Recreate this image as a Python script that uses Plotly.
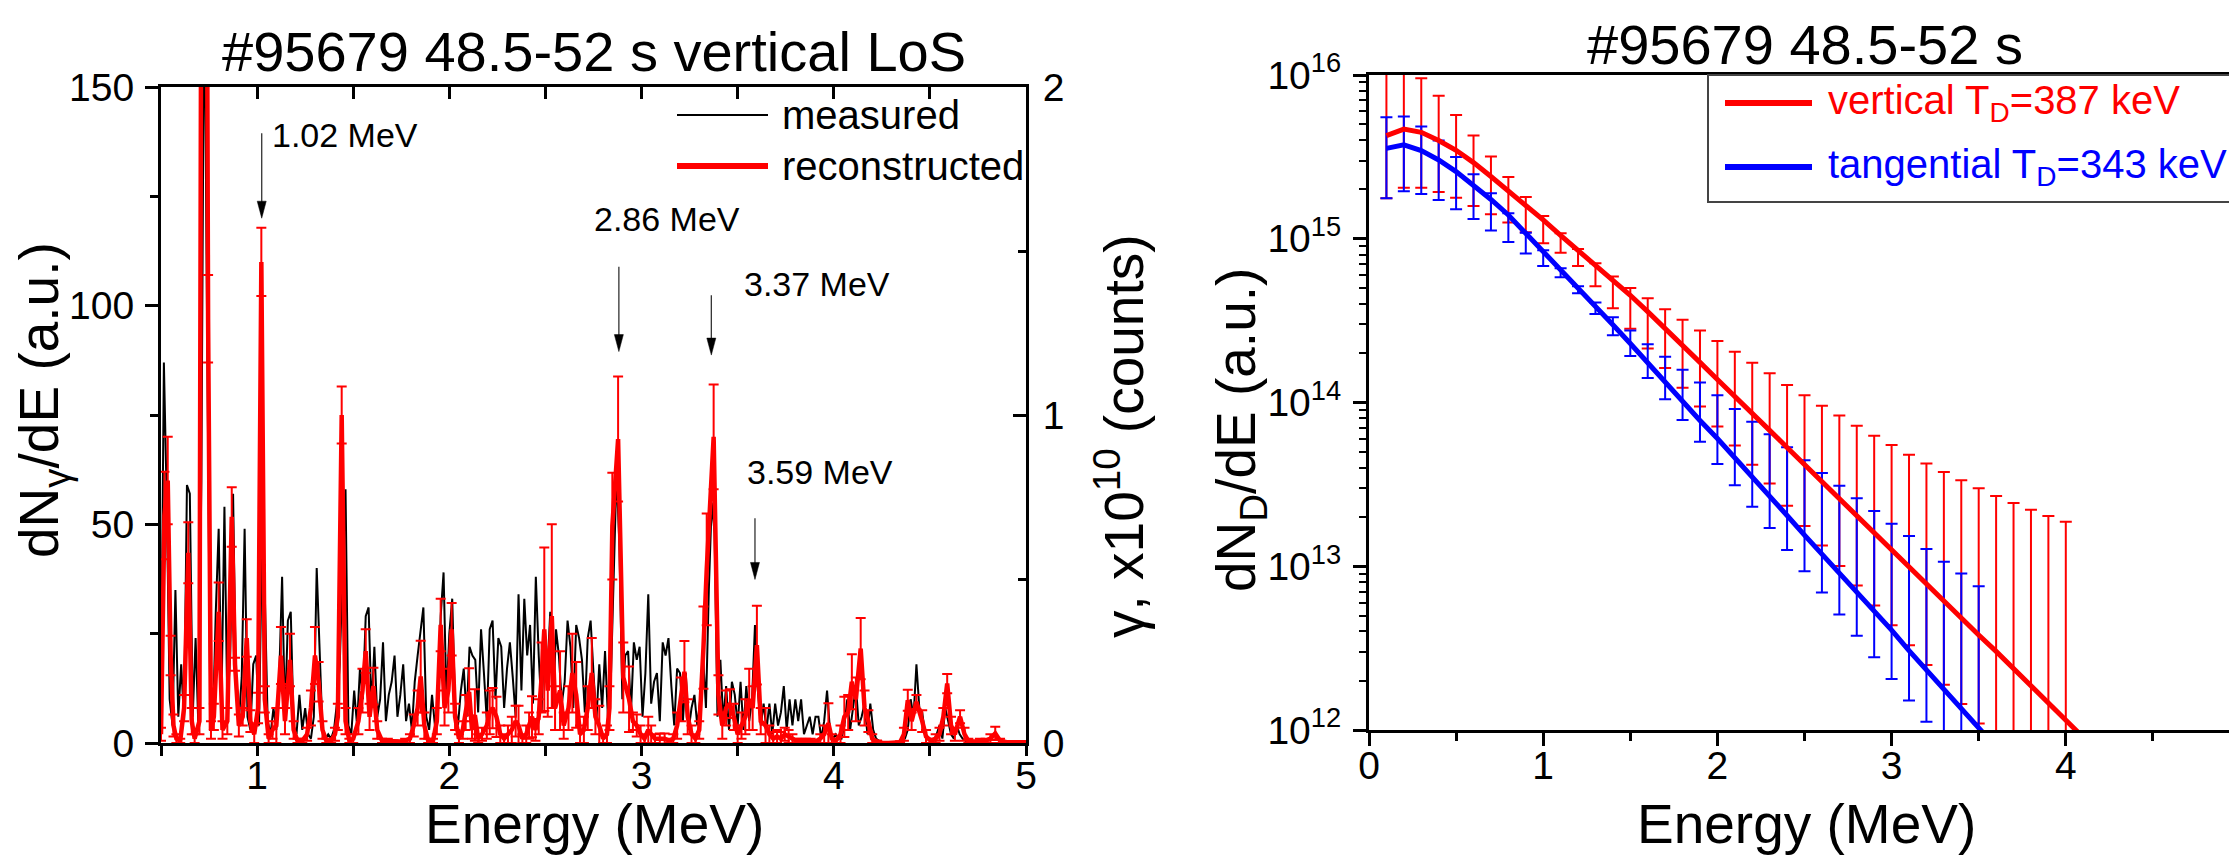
import plotly.graph_objects as go

W, H = 2237, 855
OFF = 8   # the page body puts the figure 8 px in from the top-left corner
FONT = "Liberation Sans, Arial, Helvetica, sans-serif"


def px(x):
    return (x - OFF) / W


def py(y):
    return 1 - (y - OFF) / H


# ---------------- left panel: gamma spectrum ----------------
meas_E0 = 0.5          # energy of first channel (MeV)
meas_dE = 0.015        # channel width (MeV)
meas_counts = [
    8, 87, 55, 10, 4, 35, 6, 18, 5, 59,
    57, 6, 24, 3, 60, 180, 95, 15, 4, 30,
    49, 10, 54, 8, 20, 57, 12, 5, 15, 49,
    6, 3, 18, 20, 4, 45, 34, 5, 2, 8,
    3, 15, 38, 6, 28, 30, 4, 2, 11, 3,
    8, 2, 1, 6, 40, 21, 3, 1, 2, 1,
    3, 9, 18, 40, 58, 4, 2, 12, 4, 17,
    10, 29, 31, 8, 22, 6, 10, 23, 5, 11,
    14, 20, 6, 11, 18, 5, 9, 3, 14, 20,
    25, 31, 6, 3, 11, 4, 8, 29, 39, 10,
    25, 33, 8, 4, 12, 17, 6, 22, 20, 19,
    7, 26, 16, 5, 26, 28, 10, 24, 22, 8,
    17, 23, 15, 6, 34, 12, 33, 20, 27, 9,
    38, 20, 7, 25, 16, 30, 8, 26, 20, 9,
    14, 28, 22, 8, 27, 24, 19, 7, 24, 28,
    16, 5, 18, 8, 21, 6, 14, 40, 62, 45,
    10, 20, 21, 7, 23, 19, 22, 6, 16, 34,
    9, 14, 16, 5, 23, 20, 24, 13, 4, 17,
    16, 5, 16, 3, 8, 11, 4, 10, 20, 8,
    35, 55, 48, 6, 19, 5, 13, 3, 14, 11,
    4, 14, 3, 13, 5, 10, 27, 12, 4, 9,
    3, 9, 2, 9, 4, 7, 13, 3, 10, 4,
    10, 5, 10, 2, 4, 6, 2, 6, 6, 1,
    5, 12, 3, 1, 2, 1, 1, 4, 10, 3,
    8, 13, 4, 6, 9, 2, 9, 3, 1, 0.5,
    0, 0, 0, 0, 0, 0, 0, 0.5, 1, 3,
    10, 6, 18, 8, 7, 2, 1, 1, 0.5, 2,
    4, 1, 8, 5, 2, 1, 4, 2, 1, 0.5,
    0, 0, 0, 0, 0, 0, 0, 0, 0, 0,
    0, 0, 0, 0, 0, 0, 0, 0, 0, 0, 0,
]
meas_E = [round(meas_E0 + meas_dE * i, 4) for i in range(len(meas_counts))]

rec_E = [
    0.500, 0.518, 0.535, 0.550, 0.565, 0.580, 0.600, 0.620, 0.642, 0.660,
    0.675, 0.700, 0.722, 0.745, 0.760, 0.775, 0.800, 0.820, 0.845, 0.868,
    0.885, 0.905, 0.925, 0.946, 0.965, 0.985, 1.005, 1.022, 1.040, 1.060,
    1.080, 1.100, 1.124, 1.145, 1.171, 1.190, 1.210, 1.235, 1.260, 1.280,
    1.301, 1.320, 1.340, 1.360, 1.385, 1.405, 1.420, 1.440, 1.460, 1.480,
    1.500, 1.527, 1.548, 1.565, 1.585, 1.605, 1.625, 1.650, 1.680, 1.710,
    1.740, 1.770, 1.795, 1.815, 1.835, 1.851, 1.870, 1.890, 1.915, 1.935,
    1.955, 1.975, 1.995, 2.012, 2.030, 2.050, 2.070, 2.085, 2.103, 2.118,
    2.133, 2.150, 2.170, 2.195, 2.210, 2.225, 2.245, 2.265, 2.285, 2.305,
    2.325, 2.345, 2.360, 2.380, 2.400, 2.415, 2.430, 2.448, 2.465, 2.480,
    2.494, 2.512, 2.533, 2.550, 2.576, 2.595, 2.620, 2.640, 2.660, 2.680,
    2.700, 2.720, 2.741, 2.760, 2.780, 2.800, 2.820, 2.833, 2.848, 2.878,
    2.905, 2.935, 2.955, 2.975, 2.995, 3.015, 3.035, 3.050, 3.070, 3.095,
    3.120, 3.145, 3.165, 3.185, 3.205, 3.223, 3.240, 3.260, 3.280, 3.300,
    3.322, 3.339, 3.375, 3.400, 3.420, 3.440, 3.460, 3.480, 3.500, 3.520,
    3.540, 3.560, 3.578, 3.600, 3.620, 3.645, 3.665, 3.685, 3.705, 3.725,
    3.745, 3.765, 3.785, 3.805, 3.830, 3.855, 3.880, 3.905, 3.930, 3.950,
    3.972, 3.990, 4.010, 4.035, 4.055, 4.075, 4.094, 4.115, 4.140, 4.160,
    4.180, 4.200, 4.225, 4.255, 4.285, 4.315, 4.345, 4.365, 4.385, 4.405,
    4.430, 4.460, 4.480, 4.505, 4.530, 4.550, 4.570, 4.590, 4.610, 4.630,
    4.657, 4.680, 4.700, 4.730, 4.760, 4.790, 4.815, 4.840, 4.865, 4.900,
    4.940, 4.980, 5.000,
]
rec_val = [
    2, 52, 60, 20, 4, 1, 0.5, 8, 43.5, 5,
    1, 5, 420, 97, 3, 6, 30, 3, 5, 51.7,
    18, 4, 6, 24, 5, 2, 8, 110, 10, 1,
    3, 4, 20, 5, 19, 3, 0.5, 0.5, 2, 8,
    20, 14, 3, 0.5, 0.5, 2, 6, 75, 5, 0.5,
    1, 5, 12, 21, 6, 13, 3, 0.5, 0.5, 0.3,
    0.3, 0.5, 1, 4, 8, 15.2, 4, 0.5, 0.5, 5,
    27, 8, 12, 26, 6, 1, 3, 7, 11.7, 3,
    6.4, 1, 2, 4, 7, 8, 6, 2, 1, 2,
    3, 5, 4, 1, 2, 4, 6, 3, 6, 15,
    26, 12, 29, 8, 12, 4, 8, 16, 11, 2,
    3, 8, 16, 6, 4, 1, 2, 8, 49.6, 69.5,
    15, 10, 5, 4, 2, 1, 3, 2, 1, 1,
    1, 0.5, 1, 4, 10, 16.3, 6, 2, 1, 3,
    21.8, 39.7, 70, 11, 4, 8, 9, 6, 2, 4,
    6, 10, 8, 22.4, 5, 4, 2, 1, 1.5, 1,
    2, 1.5, 1, 0.5, 0.5, 0.5, 0.5, 0.3, 1, 2,
    4.5, 1, 0.5, 2, 6, 7, 14, 10, 21.6, 8,
    5, 1, 0.3, 0, 0, 0, 0.2, 2, 9.8, 5,
    9.4, 5, 1.5, 0.5, 1, 2, 6, 13.6, 4, 2,
    6, 2, 0.5, 0.3, 0.5, 0.5, 1, 2.2, 0.5, 0.2,
    0.2, 0.2, 0.2,
]
rec_err = [
    1.5, 10, 10, 4.5, 2.5, 1, 0.5, 3, 7, 3,
    1, 3, 20, 10, 2, 3, 6.7, 2, 3, 6.8,
    1.5, 2.5, 2, 4.3, 2.5, 2, 3.5, 7.8, 3, 1,
    2, 4, 6.5, 3, 6, 2, 0.5, 0.5, 1.5, 4,
    6.5, 4.5, 2, 0.5, 0.5, 1.5, 3, 6.5, 3, 0.5,
    1, 3, 5, 5, 3, 4.2, 2, 0.5, 0.5, 0.3,
    0.3, 0.5, 1, 2.5, 4, 8.2, 3, 0.5, 0.5, 3,
    6, 4, 5, 6, 3, 1, 2, 4, 5.4, 2,
    5.9, 1, 1.5, 3, 5, 4.6, 4.6, 2, 1, 2,
    3, 3.5, 4.5, 1, 2, 3, 4.7, 2.5, 4, 8,
    18.7, 6, 21, 5, 9, 3, 5, 9, 7.5, 2,
    3, 5, 8, 4, 4.5, 1, 2, 5, 12.2, 14.3,
    8, 7.5, 2, 2.5, 2, 1, 3, 2, 1, 1.2,
    1.2, 0.5, 1, 3, 5, 7, 4, 2, 1, 2,
    9.4, 12.8, 12, 4.5, 3, 4, 3.3, 3, 2, 3,
    4, 7, 5, 9, 3, 4, 2, 1.5, 1.5, 1.5,
    1.5, 1.5, 1, 0.5, 0.5, 0.5, 0.5, 0.3, 1, 2,
    4.6, 1, 0.5, 2, 4.6, 4, 6.3, 5, 7, 4,
    2.5, 1, 0.3, 0.2, 0.2, 0.2, 0.2, 1.5, 2.4, 2,
    1.6, 2.5, 1.5, 0.5, 1, 1.5, 2, 2.2, 2, 1.5,
    1.5, 1.5, 0.5, 0.3, 0.5, 0.5, 1, 1.5, 0.5, 0.2,
    0.2, 0.2, 0.2,
]

peak_labels = ["1.02 MeV", "2.86 MeV", "3.37 MeV", "3.59 MeV"]
peak_arrow_E = [1.024, 2.882, 3.363, 3.59]        # where the arrows point (MeV)
peak_arrow_tip = [120, 89.5, 88.7, 37.4]         # arrow tip height (a.u.)
peak_arrow_tail = [139.4, 108.9, 102.4, 51.4]    # arrow tail height (a.u.)

# ---------------- right panel: deuteron distribution ----------------
fit_E_vert = [0.1, 0.2, 0.3, 0.4, 0.5, 0.6, 0.7, 0.8, 0.9, 1.0,
              1.1, 1.2, 1.3, 1.4, 1.5, 1.6, 1.7, 1.8, 1.9, 2.0,
              2.1, 2.2, 2.3, 2.4, 2.5, 2.6, 2.7, 2.8, 2.9, 3.0,
              3.1, 3.2, 3.3, 3.4, 3.5, 3.6, 3.7, 3.8, 3.9, 4.0, 4.1]
fit_logN_vert = [15.63, 15.67, 15.65, 15.60, 15.54, 15.465, 15.38, 15.29, 15.21, 15.115,
                 15.02, 14.93, 14.84, 14.75, 14.655, 14.555, 14.455, 14.35, 14.245, 14.14,
                 14.04, 13.935, 13.83, 13.725, 13.62, 13.515, 13.41, 13.31, 13.205, 13.10,
                 12.995, 12.89, 12.79, 12.685, 12.58, 12.48, 12.375, 12.27, 12.165, 12.06, 11.955]
fit_E_tang = [0.1, 0.2, 0.3, 0.4, 0.5, 0.6, 0.7, 0.8, 0.9, 1.0,
              1.1, 1.2, 1.3, 1.4, 1.5, 1.6, 1.7, 1.8, 1.9, 2.0,
              2.1, 2.2, 2.3, 2.4, 2.5, 2.6, 2.7, 2.8, 2.9, 3.0,
              3.1, 3.2, 3.3, 3.4, 3.5, 3.6]
fit_logN_tang = [15.552, 15.573, 15.538, 15.481, 15.41, 15.328, 15.24, 15.145, 15.035, 14.925,
                 14.815, 14.705, 14.59, 14.475, 14.36, 14.24, 14.12, 14.0, 13.89, 13.78,
                 13.665, 13.545, 13.43, 13.31, 13.19, 13.075, 12.955, 12.84, 12.72, 12.61,
                 12.485, 12.365, 12.25, 12.13, 12.015, 11.895]

err_E_vert = fit_E_vert[:40]
err_hi_vert = [16.15, 16.08, 15.98, 15.874, 15.756, 15.63, 15.503, 15.377, 15.255, 15.139,
               15.033, 14.937, 14.85, 14.77, 14.70, 14.636, 14.57, 14.506, 14.44, 14.376,
               14.31, 14.243, 14.178, 14.107, 14.044, 13.98, 13.92, 13.858, 13.797, 13.74,
               13.681, 13.628, 13.575, 13.525, 13.476, 13.429, 13.386, 13.345, 13.307, 13.272]
err_lo_vert = [15.247, 15.312, 15.312, 15.286, 15.25, 15.20, 15.15, 15.10, 15.04, 14.972,
               14.915, 14.833, 14.71, 14.575, 14.45, 14.33, 14.21, 14.09, 13.975, 13.853,
               13.737, 13.62, 13.505, 13.37, 13.246, 13.126, 13.002, 12.882, 12.76, 12.64,
               12.517, 12.397, 12.277, 12.159, 12.04, 11.92, 11.80, 11.68, 11.56, 11.44]
err_E_tang = fit_E_tang[:35]
err_hi_tang = [15.742, 15.746, 15.685, 15.60, 15.50, 15.394, 15.278, 15.155, 15.037, 14.93,
               14.82, 14.71, 14.61, 14.52, 14.44, 14.356, 14.28, 14.2, 14.122, 14.045,
               13.96, 13.883, 13.806, 13.726, 13.647, 13.57, 13.492, 13.415, 13.337, 13.26,
               13.185, 13.106, 13.028, 12.955, 12.878]
err_lo_tang = [15.247, 15.29, 15.273, 15.237, 15.18, 15.12, 15.05, 14.98, 14.91, 14.833,
               14.765, 14.667, 14.54, 14.41, 14.284, 14.15, 14.02, 13.893, 13.76, 13.624,
               13.494, 13.363, 13.233, 13.099, 12.97, 12.839, 12.705, 12.575, 12.444, 12.312,
               12.18, 12.05, 11.92, 11.79, 11.66]

RED = "#ff0000"
BLUE = "#0000ff"

fig = go.Figure()

# left panel traces
fig.add_trace(go.Scatter(x=meas_E, y=meas_counts, mode="lines",
                         line=dict(color="black", width=2),
                         xaxis="x", yaxis="y", showlegend=False, hoverinfo="skip"))
fig.add_trace(go.Scatter(x=rec_E, y=rec_val, mode="lines",
                         line=dict(color=RED, width=4.5),
                         error_y=dict(type="data", array=rec_err, visible=True,
                                      color=RED, thickness=2, width=5),
                         xaxis="x", yaxis="y", showlegend=False, hoverinfo="skip"))
fig.add_trace(go.Scatter(x=[], y=[], xaxis="x3", yaxis="y2", showlegend=False))


def bar_trace(E, hi, lo, color):
    mid = [10 ** ((h + l) / 2) for h, l in zip(hi, lo)]
    up = [10 ** h - m for h, m in zip(hi, mid)]
    dn = [m - 10 ** l for l, m in zip(lo, mid)]
    return go.Scatter(x=E, y=mid, mode="markers",
                      marker=dict(size=1, color="rgba(0,0,0,0)"),
                      error_y=dict(type="data", array=up, arrayminus=dn, symmetric=False,
                                   visible=True, color=color, thickness=2, width=6),
                      xaxis="x2", yaxis="y3", showlegend=False, hoverinfo="skip")


fig.add_trace(bar_trace(err_E_vert, err_hi_vert, err_lo_vert, RED))
fig.add_trace(bar_trace(err_E_tang, err_hi_tang, err_lo_tang, BLUE))
fig.add_trace(go.Scatter(x=fit_E_vert, y=[10 ** v for v in fit_logN_vert], mode="lines",
                         line=dict(color=RED, width=5), xaxis="x2", yaxis="y3",
                         showlegend=False, hoverinfo="skip"))
fig.add_trace(go.Scatter(x=fit_E_tang, y=[10 ** v for v in fit_logN_tang], mode="lines",
                         line=dict(color=BLUE, width=5), xaxis="x2", yaxis="y3",
                         showlegend=False, hoverinfo="skip"))

TICKFONT = dict(family=FONT, size=39, color="black")
common = dict(showgrid=False, zeroline=False, showline=True, linecolor="black",
              linewidth=3, tickcolor="black", tickwidth=2.5, tickfont=TICKFONT,
              automargin=False)

log_minor = [k * 10 ** n for n in range(12, 16) for k in range(2, 10)]

fig.update_layout(
    template="none",
    width=W, height=H, autosize=False,
    margin=dict(l=0, r=0, t=0, b=0, pad=0),
    paper_bgcolor="white", plot_bgcolor="white", showlegend=False,
    font=dict(family=FONT, color="black"),
    xaxis=dict(domain=[px(161), px(1026)], range=[0.5, 5], anchor="y",
               tickvals=[1, 2, 3, 4, 5], ticks="outside", ticklen=10,
               ticklabelstandoff=-14,
               minor=dict(tickvals=[0.5, 1.5, 2.5, 3.5, 4.5], ticks="outside",
                          ticklen=10, tickwidth=2.5, tickcolor="black"),
               **common),
    xaxis3=dict(overlaying="x", side="top", anchor="y", range=[0.5, 5],
                tickvals=[1, 1.5, 2, 2.5, 3, 3.5, 4, 4.5], ticks="inside", ticklen=12,
                showticklabels=False, **common),
    yaxis=dict(domain=[py(743), py(87)], range=[0, 150], anchor="x",
               tickvals=[0, 50, 100, 150], ticks="outside", ticklen=13,
               ticklabelstandoff=3,
               minor=dict(tickvals=[25, 75, 125], ticks="outside", ticklen=8,
                          tickwidth=2.5, tickcolor="black"),
               **common),
    yaxis2=dict(overlaying="y", side="right", anchor="x", range=[0, 2],
                tickvals=[0, 1, 2], ticks="inside", ticklen=13,
                ticklabelstandoff=6,
                minor=dict(tickvals=[0.5, 1.5], ticks="inside", ticklen=8,
                           tickwidth=2.5, tickcolor="black"),
                **common),
    xaxis2=dict(domain=[px(1369), px(2240)], range=[0, 5], anchor="y3",
                tickvals=[0, 1, 2, 3, 4, 5], ticks="outside", ticklen=13, mirror=True,
                ticklabelstandoff=-14,
                minor=dict(tickvals=[0.5, 1.5, 2.5, 3.5, 4.5], ticks="outside",
                           ticklen=8, tickwidth=2.5, tickcolor="black"),
                **common),
    yaxis3=dict(domain=[py(730), py(75)], type="log", range=[12, 16], anchor="x2",
                tickvals=[1e12, 1e13, 1e14, 1e15, 1e16],
                ticktext=["10<sup>12</sup>", "10<sup>13</sup>", "10<sup>14</sup>",
                          "10<sup>15</sup>", "10<sup>16</sup>"],
                ticks="outside", ticklen=13, ticklabelstandoff=4,
                minor=dict(tickvals=log_minor, ticks="outside", ticklen=7,
                           tickwidth=2, tickcolor="black"),
                **common),
)

ann = []


def text(x, y, s, size, color="black", xanchor="center", angle=0):
    ann.append(dict(x=px(x), y=py(y), xref="paper", yref="paper", text=s,
                    showarrow=False, xanchor=xanchor, yanchor="middle",
                    textangle=angle, font=dict(family=FONT, size=size, color=color)))


# titles
text(594, 52, "#95679 48.5-52 s vertical LoS", 56)
text(1805, 44, "#95679 48.5-52 s", 56)
# axis titles
text(594, 824, "Energy (MeV)", 55)
text(1806, 824, "Energy (MeV)", 55)
text(43, 400, "dN<sub>γ</sub>/dE (a.u.)", 55, angle=-90)
text(1120, 436, "γ, x10<sup>10</sup> (counts)", 55, angle=-90)
text(1240, 430, "dN<sub>D</sub>/dE (a.u.)", 55, angle=-90)

# peak labels
label_pos = [(270, 135), (592, 219), (742, 284), (745, 472)]
for lab, (lx, ly) in zip(peak_labels, label_pos):
    text(lx, ly, lab, 34, xanchor="left")

# left legend
text(780, 115, "measured", 40, xanchor="left")
text(780, 166, "reconstructed", 40, xanchor="left")
# right legend
text(1826, 103, "vertical T<sub>D</sub>=387 keV", 40, color=RED, xanchor="left")
text(1826, 167, "tangential T<sub>D</sub>=343 keV", 40, color=BLUE, xanchor="left")

shapes = []
# arrows
for E, tip, tail in zip(peak_arrow_E, peak_arrow_tip, peak_arrow_tail):
    shapes.append(dict(type="line", xref="x", yref="y", x0=E, x1=E, y0=tail, y1=tip + 1,
                       line=dict(color="#333333", width=1.3), layer="above"))
    shapes.append(dict(type="path", xref="x", yref="y", xsizemode="pixel", ysizemode="pixel",
                       xanchor=E, yanchor=tip, path="M -4.5,17 L 4.5,17 L 0,0 Z",
                       fillcolor="black", line=dict(color="black", width=0.5), layer="above"))

# left legend samples
shapes.append(dict(type="line", xref="paper", yref="paper", x0=px(677), x1=px(768),
                   y0=py(115), y1=py(115), line=dict(color="black", width=2)))
shapes.append(dict(type="line", xref="paper", yref="paper", x0=px(677), x1=px(768),
                   y0=py(166), y1=py(166), line=dict(color=RED, width=6)))
# right legend box + samples
shapes.append(dict(type="rect", xref="paper", yref="paper", x0=px(1708), x1=px(2270),
                   y0=py(202), y1=py(75), line=dict(color="#444444", width=2),
                   fillcolor="white", layer="above"))
shapes.append(dict(type="line", xref="paper", yref="paper", x0=px(1725), x1=px(1812),
                   y0=py(103), y1=py(103), line=dict(color=RED, width=6), layer="above"))
shapes.append(dict(type="line", xref="paper", yref="paper", x0=px(1725), x1=px(1812),
                   y0=py(167), y1=py(167), line=dict(color=BLUE, width=6), layer="above"))

fig.update_layout(annotations=ann, shapes=shapes)

fig.write_html("out.html")
